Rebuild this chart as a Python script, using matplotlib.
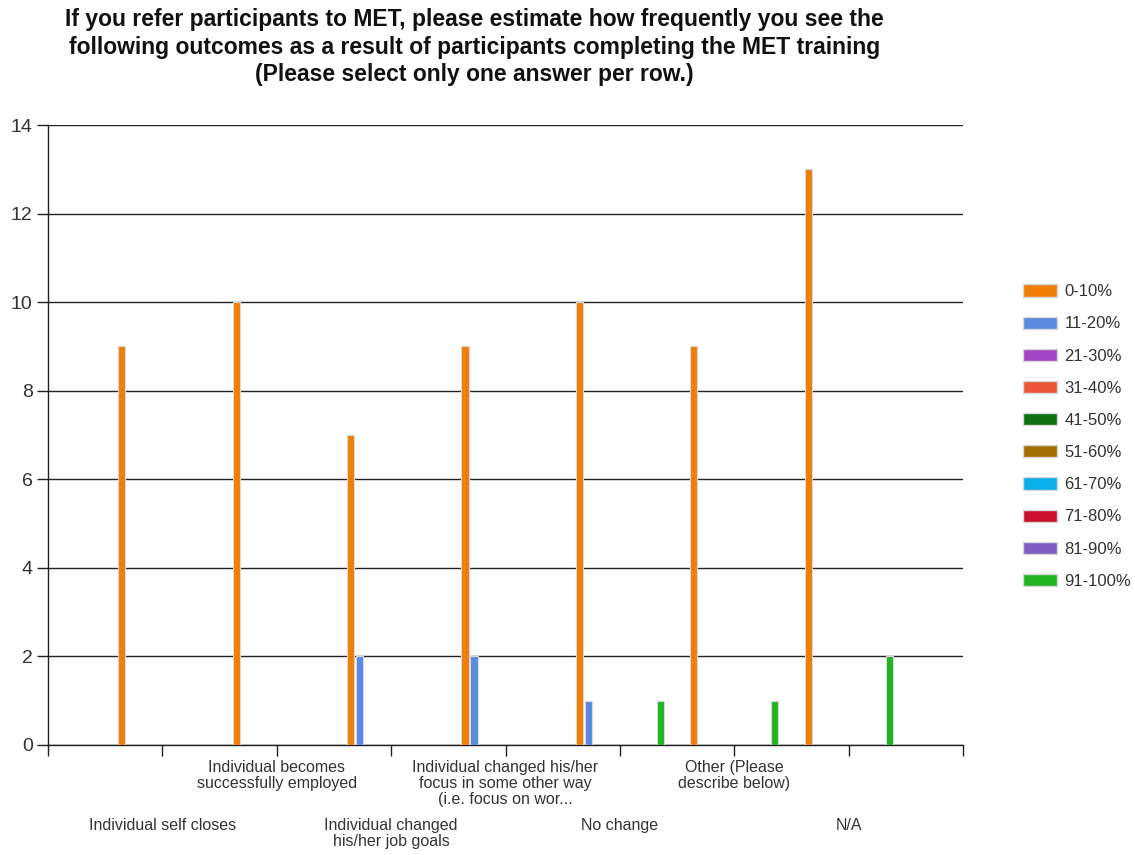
import matplotlib
matplotlib.use("Agg")
import matplotlib.pyplot as plt
import matplotlib.patches as mpatches
import matplotlib.transforms as mtransforms

plt.rcParams['font.family'] = ['Liberation Sans', 'DejaVu Sans']

title = ("If you refer participants to MET, please estimate how frequently you see the\n"
         "following outcomes as a result of participants completing the MET training\n"
         "(Please select only one answer per row.)")

categories = ["Individual self closes",
              "Individual becomes\nsuccessfully employed",
              "Individual changed\nhis/her job goals",
              "Individual changed his/her\nfocus in some other way\n(i.e. focus on wor...",
              "No change",
              "Other (Please\ndescribe below)",
              "N/A"]

series_names = ["0-10%", "11-20%", "21-30%", "31-40%", "41-50%",
                "51-60%", "61-70%", "71-80%", "81-90%", "91-100%"]

v_0_10 = [9, 10, 7, 9, 10, 9, 13]
v_11_20 = [0, 0, 2, 2, 1, 0, 0]
v_21_30 = [0, 0, 0, 0, 0, 0, 0]
v_31_40 = [0, 0, 0, 0, 0, 0, 0]
v_41_50 = [0, 0, 0, 0, 0, 0, 0]
v_51_60 = [0, 0, 0, 0, 0, 0, 0]
v_61_70 = [0, 0, 0, 0, 0, 0, 0]
v_71_80 = [0, 0, 0, 0, 0, 0, 0]
v_81_90 = [0, 0, 0, 0, 0, 0, 0]
v_91_100 = [0, 0, 0, 0, 1, 1, 2]

values = [v_0_10, v_11_20, v_21_30, v_31_40, v_41_50,
          v_51_60, v_61_70, v_71_80, v_81_90, v_91_100]

colors = ["#F07E06", "#5B8BE0", "#A544C4", "#EC5537", "#0E700E",
          "#A36F00", "#0AAEEA", "#CB0F2D", "#7E5EC4", "#22B422"]

fig = plt.figure(figsize=(11.35, 8.55), dpi=100)
ax = fig.add_axes([0.0423, 0.1287, 0.8062, 0.7251])

step = 0.0787
width = 0.062
for j, (vals, col) in enumerate(zip(values, colors)):
    for i, v in enumerate(vals):
        if v > 0:
            ax.bar(i + 1 + (j - 4.5) * step, v, width=width, color=col,
                   edgecolor="#d8d8d8", linewidth=0.8, zorder=3)

ax.set_xlim(0, 8)
ax.set_ylim(0, 14)
ax.set_yticks(range(0, 15, 2))
ax.set_xticks(range(0, 9))
ax.set_xticklabels([])
ax.yaxis.grid(True, color="#222222", linewidth=1.0, zorder=0)
ax.tick_params(axis="y", length=8, width=1, color="#222222", labelsize=14,
               labelcolor="#333333", pad=3)
ax.tick_params(axis="x", length=8, width=1, color="#222222")
for s in ["top", "right"]:
    ax.spines[s].set_visible(False)
for s in ["left", "bottom"]:
    ax.spines[s].set_color("#222222")
    ax.spines[s].set_linewidth(1.0)

trans = mtransforms.blended_transform_factory(ax.transData, ax.transAxes)
for i, lab in enumerate(categories):
    y = -0.025 if i % 2 == 1 else -0.118
    ax.text(i + 1, y, lab, transform=trans, ha="center", va="top",
            fontsize=11.5, color="#333333", linespacing=1.05)

fig.text(0.418, 0.991, title, ha="center", va="top", fontsize=16.5,
         fontweight="bold", color="#111111", linespacing=1.27)

handles = [mpatches.Patch(facecolor=c, edgecolor="#d8d8d8", label=n)
           for c, n in zip(colors, series_names)]
fig.legend(handles=handles, loc="upper left", bbox_to_anchor=(0.888, 0.685),
           frameon=False, fontsize=12, labelspacing=1.03, handlelength=2.05,
           handleheight=0.75, handletextpad=0.45, labelcolor="#333333")

fig.savefig("out.png", dpi=100)
